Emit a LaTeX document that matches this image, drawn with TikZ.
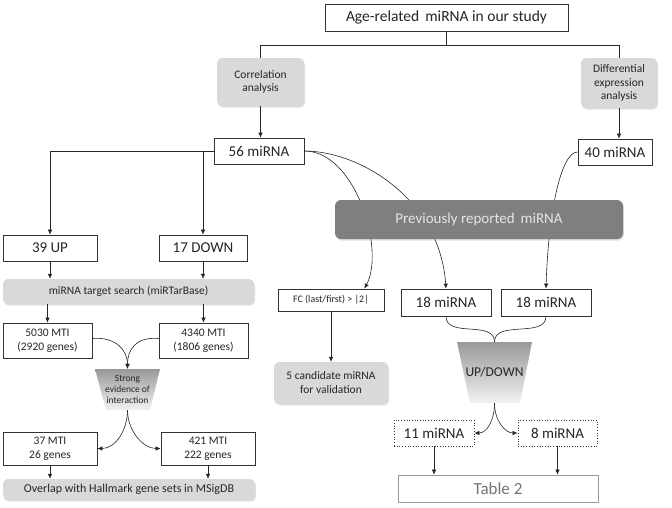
\documentclass[tikz,border=0pt]{standalone}
\usepackage{fontspec}
\setmainfont{Carlito}
\usetikzlibrary{arrows.meta,shadows}
\definecolor{boxgray}{HTML}{D9D9D9}
\definecolor{darkbox}{HTML}{7F7F7F}
\definecolor{txt}{HTML}{262626}
\begin{document}
\begin{tikzpicture}[x=1pt,y=-1pt,
  box/.style={draw=black!80, line width=0.7pt, fill=white, inner sep=0pt, text=txt, align=center},
  gbox/.style={fill=boxgray, rounded corners=5pt, inner sep=0pt, text=txt, align=center,
     drop shadow={opacity=0.25, shadow xshift=1pt, shadow yshift=-1.5pt}},
  dbox/.style={box, dotted, line width=0.9pt},
  ln/.style={draw=black!85, line width=0.6pt},
  arr/.style={ln, -{Latex[length=5pt,width=4.5pt]}},
  fA/.style={font=\fontsize{15}{18}\selectfont},
  fB/.style={font=\fontsize{11.5}{13.5}\selectfont},
  fC/.style={font=\fontsize{9.5}{11}\selectfont},
  fD/.style={font=\fontsize{12}{14}\selectfont},
  fE/.style={font=\fontsize{10}{12}\selectfont},
  trapshade/.style={top color=black!40, bottom color=black!5, draw=none}
]
\useasboundingbox (0,0) rectangle (672,507);

% top
\node[box, font=\fontsize{15.5}{18}\selectfont, minimum width=243, minimum height=27] (top) at (446.5,17.5) {Age-related \,miRNA in our study};
\node[gbox, fB, minimum width=87, minimum height=48] (corr) at (260.5,82) {Correlation\\analysis};
\node[gbox, fB, minimum width=76, minimum height=50] (diff) at (619,83) {Differential\\expression\\analysis};
\node[box, fA, minimum width=90, minimum height=26] (c56) at (259,151) {56 miRNA};
\node[box, fA, minimum width=74, minimum height=26] (c40) at (615,152) {40 miRNA};

% left branch
\node[box, fA, minimum width=94, minimum height=26] (up) at (50,248) {39 UP};
\node[box, fA, minimum width=88, minimum height=26] (down) at (203,248) {17 DOWN};
\node[gbox, fB, minimum width=251, minimum height=25] (search) at (128.5,291.5) {miRNA target search (miRTarBase)};
\node[box, fB, minimum width=89, minimum height=35] (m5030) at (47.5,340.5) {5030 MTI\\(2920 genes)};
\node[box, fB, minimum width=89, minimum height=35] (m4340) at (203.5,340.5) {4340 MTI\\(1806 genes)};
\path (95,369) coordinate (s1) (160,369) coordinate (s2) (150,410) coordinate (s3) (106,410) coordinate (s4);
\shade[trapshade] (s1) -- (s2) -- (s3) -- (s4) -- cycle;
\node[fC, text=txt, align=center, inner sep=0pt, minimum width=65, minimum height=41] (strong) at (127.5,389.5) {Strong\\evidence of\\interaction};
\node[box, fB, minimum width=94, minimum height=33] (m37) at (50,448.5) {37 MTI\\26 genes};
\node[box, fB, minimum width=94, minimum height=33] (m421) at (208,448.5) {421 MTI\\222 genes};
\node[gbox, fD, minimum width=252, minimum height=21] (overlap) at (129,489.5) {Overlap with Hallmark gene sets in MSigDB};

% right branch
\node[box, fE, minimum width=106, minimum height=22] (fc) at (331,300) {FC (last/first) > |2|};
\node[box, fA, minimum width=90, minimum height=27] (r18a) at (446,302.5) {18 miRNA};
\node[box, fA, minimum width=90, minimum height=27] (r18b) at (546,302.5) {18 miRNA};
\path (457,342) coordinate (u1) (532,342) coordinate (u2) (520,403) coordinate (u3) (470,403) coordinate (u4);
\shade[trapshade] (u1) -- (u2) -- (u3) -- (u4) -- cycle;
\node[text=txt, font=\fontsize{13.5}{16}\selectfont, inner sep=0pt, minimum width=75, minimum height=61] (updown) at (494.5,372.5) {UP/DOWN};
\node[gbox, font=\fontsize{11.5}{14}\selectfont, minimum width=114, minimum height=42] (cand) at (331,383) {5 candidate miRNA\\for validation};
\node[dbox, fA, minimum width=80, minimum height=26] (r11) at (434,433) {11 miRNA};
\node[dbox, fA, minimum width=79, minimum height=26] (r8) at (557.5,433) {8 miRNA};
\node[draw=black!40, line width=0.7pt, text=black!55, font=\fontsize{17}{20}\selectfont, inner sep=0pt, minimum width=200, minimum height=27] (table) at (498,488.5) {Table 2};

% curves behind the dark box
\draw[arr] (c56.east) .. controls +(51,0) and +(21,-39) .. ([xshift=-20]fc.north east);
\draw[arr] (c56.east) .. controls +(56,0) and +(-6,-89) .. (r18a.north);
\draw[arr] (c40.west) .. controls +(-18,0) and +(2,-69) .. (r18b.north);
\node[fill=darkbox, rounded corners=6pt, text=white!90!black, fA, inner sep=0pt, minimum width=288, minimum height=39,
  drop shadow={opacity=0.25, shadow xshift=1pt, shadow yshift=-1.5pt}] (prev) at (479,219.5) {Previously reported \,miRNA};

% top connectors
\draw[ln] (top.south) -- ++(0,14) coordinate (hj);
\draw[ln] (corr.north) |- (hj) -| (diff.north);
\draw[arr] (corr.south) -- (corr.south |- c56.north);
\draw[arr] (diff.south) -- (diff.south |- c40.north);

% left connectors
\draw[arr] (c56.west) -| (up.north);
\draw[arr] (c56.west -| down.north) -- (down.north);
\draw[arr] (up.south) -- (up.south |- search.north);
\draw[arr] (down.south) -- (down.south |- search.north);
\draw[arr] (search.south -| m5030.north) -- (m5030.north);
\draw[arr] (search.south -| m4340.north) -- (m4340.north);
\draw[arr] ([yshift=2]m5030.east) .. controls +(24,-2) and +(0,-18) .. (strong.north);
\draw[arr] ([yshift=2]m4340.west) .. controls +(-24,-2) and +(0,-18) .. (strong.north);
\draw[arr] (strong.south) .. controls +(0,20) and +(18,0) .. (m37.east);
\draw[arr] (strong.south) .. controls +(0,20) and +(-18,0) .. (m421.west);
\draw[arr] (m37.south) -- (m37.south |- overlap.north);
\draw[arr] (m421.south) -- (m421.south |- overlap.north);

% right connectors
\draw[arr] (fc.south) -- (cand.north);
\draw[ln] (r18a.south) .. controls +(0,22) and +(0,-22) .. (updown.north);
\draw[ln] (r18b.south) .. controls +(0,22) and +(0,-22) .. (updown.north);
\draw[arr] (updown.south) .. controls +(0,18) and +(12,0) .. (r11.east);
\draw[arr] (updown.south) .. controls +(0,18) and +(-12,0) .. (r8.west);
\draw[arr] (r11.south) -- (r11.south |- table.north);
\draw[arr] (r8.south) -- (r8.south |- table.north);
\end{tikzpicture}
\end{document}
